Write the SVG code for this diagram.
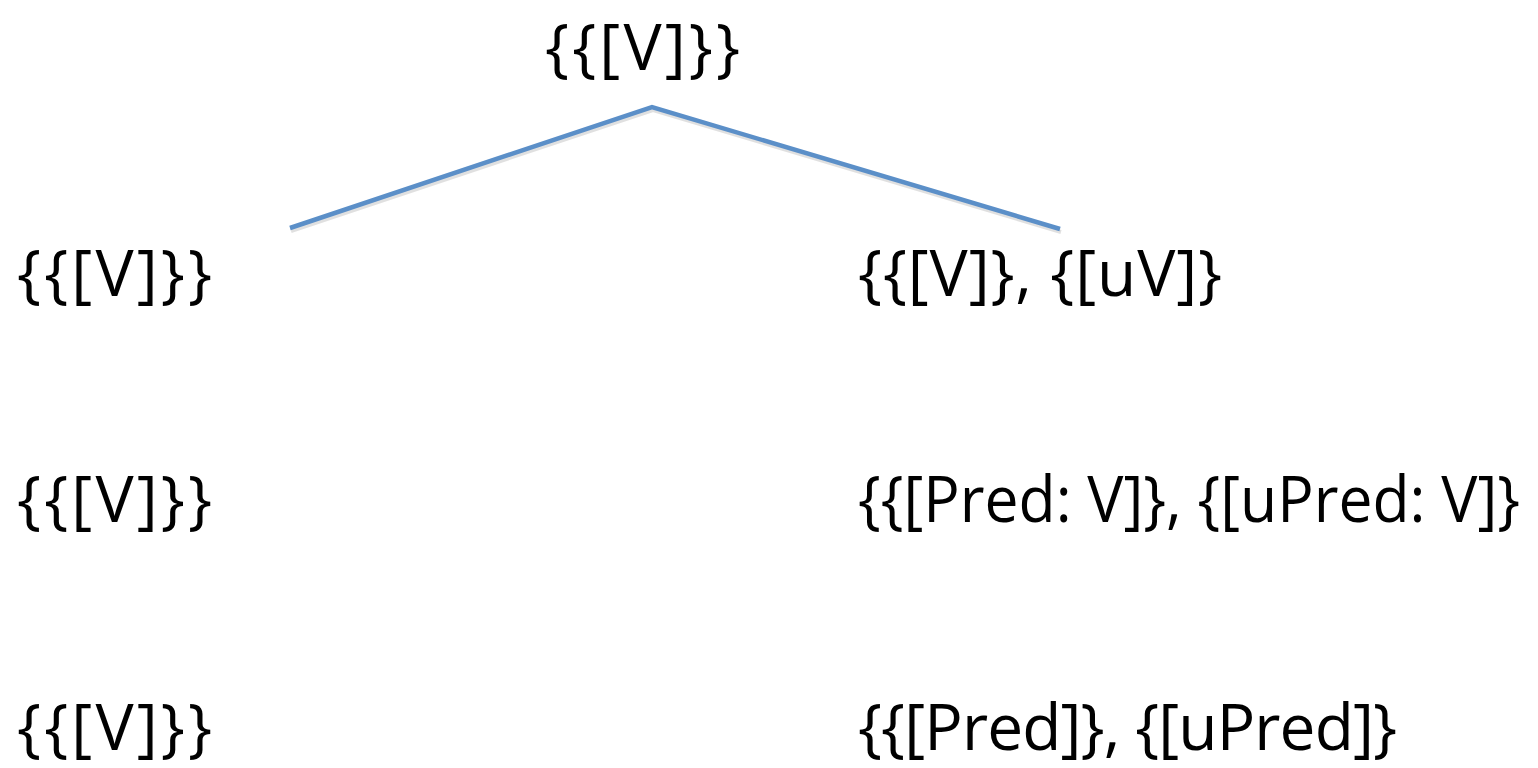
<svg xmlns="http://www.w3.org/2000/svg" width="1538" height="768" viewBox="0 0 1538 768">
<style>
.t{font-family:"Open Sans","Noto Sans","Liberation Sans",sans-serif;font-size:64px;fill:#000}
.e{stroke:#5b8fc8;stroke-width:4.5;fill:none;stroke-linecap:butt}
.s{stroke:#000;stroke-opacity:0.12;stroke-width:4;fill:none}
</style>
<rect width="1538" height="768" fill="#fff"/>
<g id="connectors">
<polyline class="s" points="291,231 653,110 1061,232"/>
<polyline class="e" points="290,228 652,107 1060,229"/>
</g>
<g id="root"><text class="t" x="545" y="70" textLength="195" lengthAdjust="spacing">{{[V]}}</text></g>
<g id="l1"><text class="t" x="17" y="296" textLength="195" lengthAdjust="spacing">{{[V]}}</text></g>
<g id="r1"><text class="t" x="858" y="296" textLength="364" lengthAdjust="spacing">{{[V]}, {[uV]}</text></g>
<g id="l2"><text class="t" x="17" y="522" textLength="195" lengthAdjust="spacing">{{[V]}}</text></g>
<g id="r2"><text class="t" x="858" y="522" textLength="662" lengthAdjust="spacingAndGlyphs">{{[Pred: V]}, {[uPred: V]}</text></g>
<g id="l3"><text class="t" x="17" y="750" textLength="195" lengthAdjust="spacing">{{[V]}}</text></g>
<g id="r3"><text class="t" x="858" y="750" textLength="539" lengthAdjust="spacing">{{[Pred]}, {[uPred]}</text></g>
</svg>
